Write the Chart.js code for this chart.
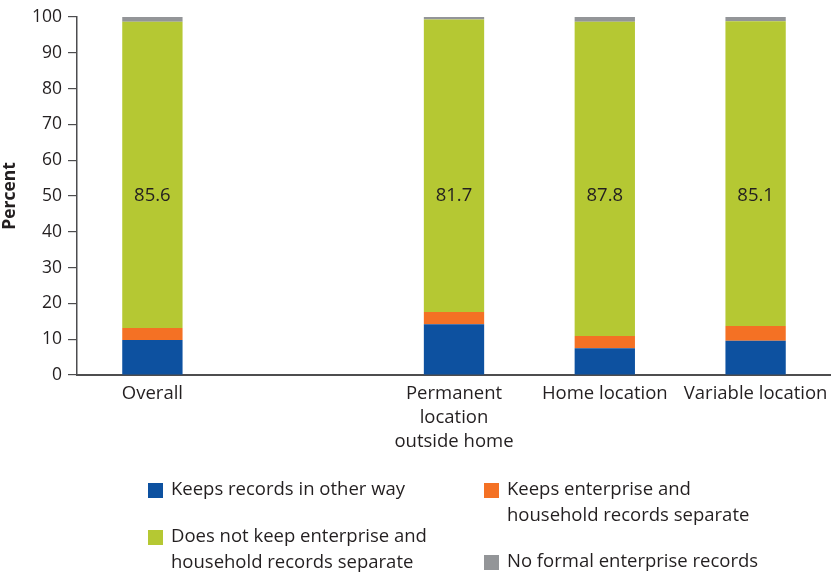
<!DOCTYPE html>
<html>
<head>
<meta charset="utf-8">
<script src="https://cdn.jsdelivr.net/npm/chart.js@4.4.0/dist/chart.umd.min.js"></script>
<style>
  html, body { margin: 0; padding: 0; background: #fff; }
  #wrap { width: 831px; height: 575px; position: relative; }
</style>
</head>
<body>
<div id="wrap"><canvas id="myChart" width="831" height="575"></canvas></div>
<script>
// categories (second slot is an empty gap in the original)
var categories = ["Overall", "", ["Permanent", "location", "outside home"], "Home location", "Variable location"];

// series values, percent
var keepsOtherWay   = [9.8, null, 14.2, 7.5, 9.6];
var keepsSeparate   = [3.3, null, 3.4, 3.4, 4.1];
var notSeparate     = [85.6, null, 81.7, 87.8, 85.1];
var noFormalRecords = [1.3, null, 0.7, 1.3, 1.2];

var yTicks = [0, 10, 20, 30, 40, 50, 60, 70, 80, 90, 100];

var seriesNames = [
    ["Keeps records in other way"],
    ["Keeps enterprise and", "household records separate"],
    ["Does not keep enterprise and", "household records separate"],
    ["No formal enterprise records"]
];
var seriesColors = ["#0d51a0", "#f47124", "#b5c833", "#939598"];

var FONT = "'Open Sans', sans-serif";
var TXT = "#231f20";

// value labels in the middle of the green segments
var valueLabels = {
    id: "valueLabels",
    afterDatasetsDraw: function (chart) {
        var ctx = chart.ctx;
        var meta = chart.getDatasetMeta(2);
        var y = chart.scales.y.getPixelForValue(50);
        ctx.save();
        ctx.font = "18.5px " + FONT;
        ctx.fillStyle = TXT;
        ctx.textAlign = "center";
        ctx.textBaseline = "middle";
        meta.data.forEach(function (bar, i) {
            if (notSeparate[i] == null) return;
            ctx.fillText(notSeparate[i].toFixed(1), bar.x, y);
        });
        ctx.restore();
    }
};

// legend drawn by hand, two columns with wrapped labels
var boxLegend = {
    id: "boxLegend",
    afterDraw: function (chart) {
        var ctx = chart.ctx;
        var spots = [
            { x: 148, y: 490 },
            { x: 484, y: 490 },
            { x: 148, y: 537 },
            { x: 484, y: 562 }
        ];
        ctx.save();
        ctx.font = "18.5px " + FONT;
        ctx.textBaseline = "middle";
        ctx.textAlign = "left";
        seriesNames.forEach(function (lines, i) {
            var s = spots[i];
            ctx.fillStyle = seriesColors[i];
            ctx.fillRect(s.x, s.y - 7, 15, 15);
            ctx.fillStyle = TXT;
            lines.forEach(function (t, k) {
                ctx.fillText(t, s.x + 23, s.y + k * 25.5);
            });
        });
        ctx.restore();
    }
};

var ctx = document.getElementById("myChart").getContext("2d");
window.myChart = new Chart(ctx, {
    type: "bar",
    data: {
        labels: categories,
        datasets: [
            { label: seriesNames[0].join(" "), data: keepsOtherWay, backgroundColor: seriesColors[0] },
            { label: seriesNames[1].join(" "), data: keepsSeparate, backgroundColor: seriesColors[1] },
            { label: seriesNames[2].join(" "), data: notSeparate, backgroundColor: seriesColors[2] },
            { label: seriesNames[3].join(" "), data: noFormalRecords, backgroundColor: seriesColors[3] }
        ]
    },
    options: {
        responsive: false,
        animation: false,
        barPercentage: 0.4,
        categoryPercentage: 1,
        layout: { padding: { top: 17, right: 0, left: 0, bottom: 0 } },
        plugins: {
            legend: { display: false },
            tooltip: { enabled: false }
        },
        scales: {
            x: {
                stacked: true,
                grid: { display: false, drawTicks: false },
                border: { display: true, color: "#4d4d4f", width: 2 },
                ticks: {
                    color: TXT,
                    font: { family: FONT, size: 18.5, lineHeight: 1.3 },
                    padding: 7,
                    maxRotation: 0,
                    autoSkip: false
                },
                afterFit: function (s) {
                    s.height = 200;
                    s.paddingLeft = 0;
                    s.paddingRight = 0;
                }
            },
            y: {
                stacked: true,
                min: 0,
                max: 100,
                afterBuildTicks: function (s) {
                    s.ticks = yTicks.map(function (v) { return { value: v }; });
                },
                grid: { drawOnChartArea: false, tickLength: 9, color: "#4d4d4f", lineWidth: 1.2 },
                border: { display: true, color: "#4d4d4f", width: 1.5 },
                ticks: {
                    color: TXT,
                    font: { family: FONT, size: 17.5 },
                    padding: 6
                },
                title: {
                    display: true,
                    text: "Percent",
                    color: TXT,
                    font: { family: FONT, size: 17.5, weight: "bold" },
                    padding: 0
                },
                afterFit: function (s) { s.width = 77; }
            }
        }
    },
    plugins: [valueLabels, boxLegend]
});
</script>
</body>
</html>
